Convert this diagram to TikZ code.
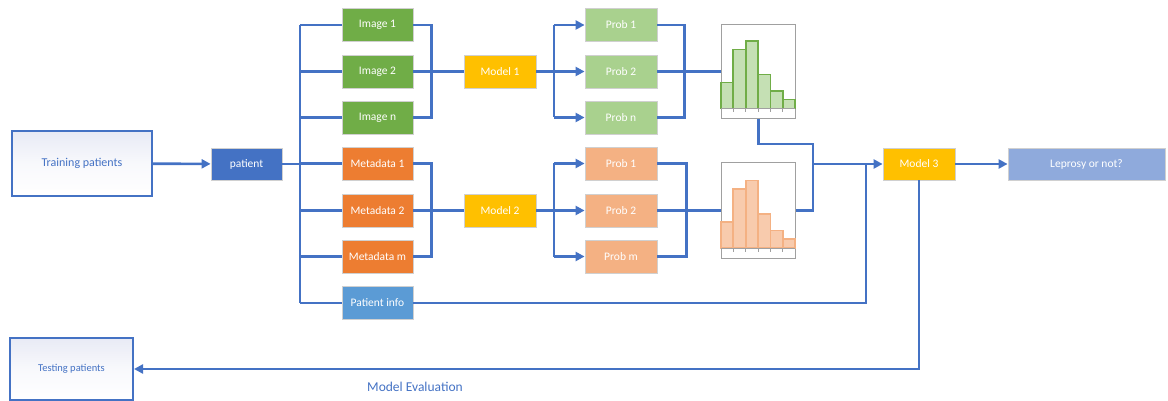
\documentclass[tikz,border=0pt]{standalone}
\usepackage{fontspec}
\setmainfont{Carlito}
\usetikzlibrary{arrows.meta,calc}
\definecolor{lblue}{HTML}{4472C4}
\definecolor{cgreen}{HTML}{70AD47}
\definecolor{corange}{HTML}{ED7D31}
\definecolor{cinfo}{HTML}{5B9BD5}
\definecolor{cyellow}{HTML}{FFC000}
\definecolor{pgreen}{HTML}{A9D18E}
\definecolor{porange}{HTML}{F4B183}
\definecolor{clep}{HTML}{8FAADC}
\definecolor{hgreen}{HTML}{C5E0B4}
\definecolor{horange}{HTML}{F8CBAD}
\definecolor{lav}{HTML}{E8EAF5}
\definecolor{bgray}{HTML}{D0D0D0}
\definecolor{hgray}{HTML}{A0A0A0}
\newcommand\histdraw[3]{%
  \begin{scope}[shift={(#1.south west)}]
    \foreach \xa/\xb/\hh in {0/12.3/26, 12.3/25/59, 25/37.3/67.3, 37.3/49.6/34, 49.6/62/17.6, 62/74.5/9}{
      \draw[fill=#2,draw=#3,line width=1.6pt] (\xa,-10.5) rectangle (\xb,-10.5-\hh);
    }
    \draw[hgray,line width=1pt] (0,-10.5) -- (74.5,-10.5);
    \foreach \xt in {12.3,25,37.3,49.6,62}{\draw[hgray,line width=0.8pt] (\xt,-10.5) -- (\xt,-6.5);}
  \end{scope}}
\begin{document}
\begin{tikzpicture}[x=1pt,y=-1pt,
  conn/.style={lblue,line width=2.6pt},
  arr/.style={conn,-{Triangle[length=9pt,width=9pt]}},
  box/.style={draw=bgray,line width=0.8pt,text=white,minimum width=71pt,minimum height=33pt,inner sep=0pt,font=\fontsize{11.5}{13}\selectfont},
  imgbox/.style={box,fill=cgreen},
  metabox/.style={box,fill=corange},
  modelbox/.style={box,fill=cyellow,minimum width=72pt},
  pgbox/.style={box,fill=pgreen,minimum width=72pt},
  pobox/.style={box,fill=porange,minimum width=72pt},
  histbox/.style={draw=hgray,line width=1pt,fill=white,minimum width=74.5pt,minimum height=94pt,inner sep=0pt},
  patbox/.style={draw=lblue,line width=2pt,shading=axis,shading angle=135,top color=lav,bottom color=white,middle color=white!70!lav,text=lblue,inner sep=0pt}
]
\useasboundingbox (0,0) rectangle (1168,401);

% left column
\node[patbox,minimum width=140pt,minimum height=65pt,font=\fontsize{12}{14}\selectfont] (train) at (82,163.5) {Training patients};
\node[patbox,minimum width=123pt,minimum height=62pt,font=\fontsize{10.5}{12}\selectfont] (test) at (71.5,368.5) {Testing patients};
\node[box,fill=lblue,minimum height=32pt] (pat) at (246.5,164) {patient};

% inputs
\node[imgbox] (img1) at (377.5,25) {Image 1};
\node[imgbox] (img2) at (377.5,71.5) {Image 2};
\node[imgbox] (imgn) at (377.5,117.5) {Image n};
\node[metabox] (meta1) at (377.5,163.5) {Metadata 1};
\node[metabox] (meta2) at (377.5,210.5) {Metadata 2};
\node[metabox] (metam) at (377.5,256.5) {Metadata m};
\node[box,fill=cinfo] (pinfo) at (377.5,303) {Patient info};

% models
\node[modelbox] (m1) at (500,71.5) {Model 1};
\node[modelbox] (m2) at (500,210.5) {Model 2};
\node[modelbox,minimum height=32pt] (m3) at (919,164) {Model 3};
\node[box,fill=clep,minimum width=157pt,minimum height=32pt] (lep) at (1086.5,164) {Leprosy or not?};

% probabilities
\node[pgbox] (pg1) at (621,25) {Prob 1};
\node[pgbox] (pg2) at (621,71.5) {Prob 2};
\node[pgbox] (pgn) at (621,117.5) {Prob n};
\node[pobox] (po1) at (621,163.5) {Prob 1};
\node[pobox] (po2) at (621,210.5) {Prob 2};
\node[pobox] (pom) at (621,256.5) {Prob m};

% histograms
\node[histbox] (h1) at (758.5,71.5) {};
\node[histbox,minimum height=95pt] (h2) at (758.5,210.5) {};
\histdraw{h1}{hgreen}{cgreen}
\histdraw{h2}{horange}{porange}

% bus coordinates
\coordinate (bx1) at (300,0);
\coordinate (bx3) at (554,0);
\coordinate (k) at (813,144);
\coordinate (pj) at (866,0);
\coordinate (ev) at (0,369);

% training to patient
\draw[arr] (train) -- (pat);
\draw[conn] (pat.east) -- (pat.east -| bx1);
\draw[conn] (img1.west -| bx1) -- (pinfo.west -| bx1);
\foreach \n in {img1,img2,imgn,meta1,meta2,metam,pinfo}{
  \draw[conn] (\n.west -| bx1) -- (\n.west);
}

% inputs to models
\draw[conn] (img1.east) -- ++(18,0) |- (imgn.east);
\draw[conn] (img2.east) -- (m1.west);
\draw[conn] (meta1.east) -- ++(18,0) |- (metam.east);
\draw[conn] (meta2.east) -- (m2.west);

% models to probabilities
\draw[conn] (m1.east) -- (m1.east -| bx3);
\draw[conn] (pg1.west -| bx3) -- (pgn.west -| bx3);
\foreach \n in {pg1,pg2,pgn}{\draw[arr] (\n.west -| bx3) -- (\n.west);}
\draw[conn] (m2.east) -- (m2.east -| bx3);
\draw[conn] (po1.west -| bx3) -- (pom.west -| bx3);
\foreach \n in {po1,po2,pom}{\draw[arr] (\n.west -| bx3) -- (\n.west);}

% probabilities to histograms
\draw[conn] (pg1.east) -- ++(27,0) |- (pgn.east);
\draw[conn] (pg2.east) -- (h1.west);
\draw[conn] (po1.east) -- ++(29,0) |- (pom.east);
\draw[conn] (po2.east) -- (h2.west);

% histograms to model 3
\draw[conn] (h1.south) |- (k) -- (k |- h2.east) -- (h2.east);
\draw[arr] (k |- m3.west) -- (m3.west);
\draw[conn] (pinfo.east) -| (pj |- m3.west);

% outputs
\draw[arr] (m3) -- (lep);
\draw[arr] (m3.south) |- (ev -| test.east);
\node[text=lblue,font=\fontsize{13.5}{16}\selectfont] (evlab) at (415,387) {Model Evaluation};
\end{tikzpicture}
\end{document}
